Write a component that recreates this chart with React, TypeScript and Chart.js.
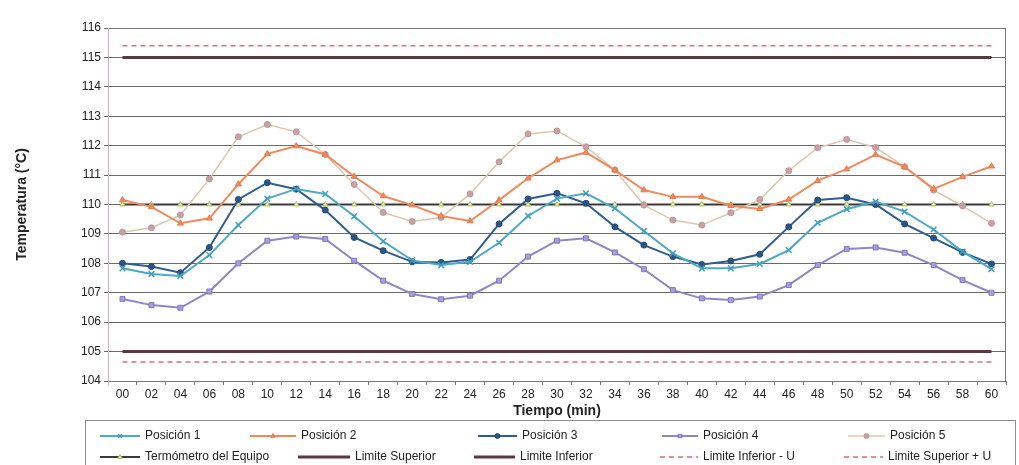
import React, { useEffect, useRef } from "react";
import { Chart, registerables } from "chart.js";
import { drawPoint } from "chart.js/helpers";

Chart.register(...registerables);

const tiempo = ["00","02","04","06","08","10","12","14","16","18","20","22","24","26","28","30","32","34","36","38","40","42","44","46","48","50","52","54","56","58","60"];

const posicion1 = [107.83,107.64,107.57,108.28,109.3,110.2,110.53,110.36,109.6,108.75,108.1,107.94,108.05,108.7,109.61,110.2,110.38,109.87,109.1,108.34,107.83,107.83,107.98,108.45,109.38,109.84,110.1,109.76,109.15,108.4,107.8];
const posicion2 = [110.15,109.92,109.36,109.53,110.69,111.72,111.99,111.7,110.95,110.29,109.98,109.61,109.44,110.15,110.89,111.51,111.77,111.17,110.49,110.26,110.26,109.96,109.85,110.17,110.81,111.2,111.7,111.28,110.53,110.94,111.3];
const posicion3 = [108.0,107.89,107.68,108.54,110.17,110.74,110.52,109.81,108.88,108.43,108.05,108.03,108.13,109.34,110.19,110.38,110.04,109.24,108.62,108.23,107.96,108.08,108.31,109.24,110.15,110.23,110.0,109.34,108.86,108.37,107.98];
const posicion4 = [106.79,106.58,106.49,107.04,108.0,108.77,108.91,108.83,108.09,107.41,106.96,106.78,106.9,107.41,108.23,108.77,108.85,108.37,107.8,107.09,106.81,106.75,106.87,107.26,107.94,108.49,108.54,108.36,107.94,107.43,107.0];
const posicion5 = [109.06,109.21,109.64,110.87,112.3,112.72,112.47,111.7,110.68,109.73,109.42,109.56,110.36,111.45,112.4,112.5,111.96,111.17,109.98,109.47,109.3,109.72,110.17,111.15,111.93,112.21,111.94,111.28,110.49,109.95,109.36];
const termometro = 110;
const limiteSuperior = 115;
const limiteInferior = 105;
const limiteInferiorU = 104.65;
const limiteSuperiorU = 115.4;

const yMin = 104;
const yMax = 116;

const FONT = "'Liberation Sans', Arial, sans-serif";

const flat = (v: number) => tiempo.map(() => v);

// legend layout: [sampleStartX, textX, y]
const legendSlots: [number, number, number][] = [
  [100, 145, 436],
  [250, 301, 436],
  [478, 522, 436],
  [662, 703, 436],
  [848, 890, 436],
  [100, 145, 457],
  [298, 355, 457],
  [474, 520, 457],
  [660, 703, 457],
  [844, 888, 457],
];

const legendPlugin = {
  id: "customLegend",
  afterDraw(chart: any) {
    const ctx = chart.ctx as CanvasRenderingContext2D;
    ctx.save();
    ctx.strokeStyle = "#8a8a8a";
    ctx.lineWidth = 1;
    ctx.strokeRect(85.5, 420.5, 930, 60);
    ctx.font = `12px ${FONT}`;
    ctx.fillStyle = "#222";
    ctx.textBaseline = "middle";
    chart.data.datasets.forEach((ds: any, i: number) => {
      const slot = legendSlots[i];
      if (!slot) return;
      const [sx, tx, y] = slot;
      const ex = tx - 5;
      ctx.save();
      ctx.strokeStyle = ds.borderColor;
      ctx.lineWidth = ds.borderWidth;
      ctx.setLineDash(ds.borderDash || []);
      ctx.beginPath();
      ctx.moveTo(sx, y);
      ctx.lineTo(ex, y);
      ctx.stroke();
      ctx.restore();
      if (ds.pointStyle && ds.pointRadius > 0) {
        ctx.save();
        ctx.fillStyle = ds.pointBackgroundColor;
        ctx.strokeStyle = ds.pointBorderColor;
        ctx.lineWidth = ds.pointBorderWidth;
        drawPoint(ctx, { pointStyle: ds.pointStyle, rotation: 0, borderWidth: ds.pointBorderWidth, radius: 2.5 }, (sx + ex) / 2, y);
        ctx.restore();
      }
      ctx.fillStyle = "#222";
      ctx.fillText(ds.label, tx, y);
    });
    ctx.restore();
  },
};

const framePlugin = {
  id: "plotFrame",
  beforeDatasetsDraw(chart: any) {
    const { ctx, chartArea } = chart;
    const { left, right, top, bottom } = chartArea;
    ctx.save();
    ctx.lineWidth = 1;
    ctx.strokeStyle = "#7a7a7a";
    ctx.beginPath();
    ctx.moveTo(Math.round(left) + 0.5, Math.round(top) + 0.5);
    ctx.lineTo(Math.round(right) - 0.5, Math.round(top) + 0.5);
    ctx.lineTo(Math.round(right) - 0.5, Math.round(bottom) + 0.5);
    ctx.stroke();
    ctx.strokeStyle = "#e2a9b8";
    ctx.beginPath();
    ctx.moveTo(Math.round(left) + 0.5, Math.round(top));
    ctx.lineTo(Math.round(left) + 0.5, Math.round(bottom) + 4);
    ctx.stroke();
    ctx.restore();
  },
};

export default function App() {
  const ref = useRef<HTMLCanvasElement | null>(null);
  useEffect(() => {
    if (!ref.current) return;
    const line = (label: string, data: number[], color: string, width: number, point: any, extra: any = {}) => ({
      label,
      data,
      borderColor: color,
      backgroundColor: color,
      borderWidth: width,
      tension: 0,
      fill: false,
      ...point,
      ...extra,
    });
    const chart = new Chart(ref.current, {
      type: "line",
      data: {
        labels: tiempo,
        datasets: [
          line("Posición 1", posicion1, "#4fa9c3", 2, { pointStyle: "crossRot", pointRadius: 4, pointBorderWidth: 1.5, pointBackgroundColor: "#4fa9c3", pointBorderColor: "#3f9fbd" }),
          line("Posición 2", posicion2, "#ef8a5e", 2, { pointStyle: "triangle", pointRadius: 3.5, pointBorderWidth: 1, pointBackgroundColor: "#ef8a5e", pointBorderColor: "#e57a4e" }),
          line("Posición 3", posicion3, "#2f5e8e", 2, { pointStyle: "circle", pointRadius: 3, pointBorderWidth: 1, pointBackgroundColor: "#2a5585", pointBorderColor: "#244b77" }),
          line("Posición 4", posicion4, "#8f86c6", 2, { pointStyle: "rect", pointRadius: 3.5, pointBorderWidth: 1, pointBackgroundColor: "#a89ed8", pointBorderColor: "#8277bd" }),
          line("Posición 5", posicion5, "#dbc8ae", 1.5, { pointStyle: "circle", pointRadius: 3, pointBorderWidth: 1, pointBackgroundColor: "#c9a1a3", pointBorderColor: "#bf9497" }),
          line("Termómetro del Equipo", flat(termometro), "#3a3a3a", 1.8, { pointStyle: "triangle", pointRadius: 3, pointBorderWidth: 1, pointBackgroundColor: "#eef2c6", pointBorderColor: "#a9b85a" }),
          line("Limite Superior", flat(limiteSuperior), "#5a3a40", 3, { pointRadius: 0 }),
          line("Limite Inferior", flat(limiteInferior), "#5a3a40", 3, { pointRadius: 0 }),
          line("Limite Inferior - U", flat(limiteInferiorU), "#e36b7a", 1.5, { pointRadius: 0 }, { borderDash: [5, 4] }),
          line("Limite Superior + U", flat(limiteSuperiorU), "#e36b7a", 1.5, { pointRadius: 0 }, { borderDash: [5, 4] }),
        ],
      },
      options: {
        responsive: false,
        animation: false,
        layout: { padding: { left: 0, right: 13, top: 28, bottom: 44 } },
        plugins: {
          legend: { display: false },
          tooltip: { enabled: false },
          title: { display: false },
        },
        scales: {
          x: {
            type: "category",
            offset: true,
            grid: { offset: true, drawOnChartArea: false, drawTicks: true, tickLength: 4, color: "#777" },
            border: { color: "#777", width: 1 },
            ticks: { color: "#222", font: { family: FONT, size: 12 }, maxRotation: 0, autoSkip: false, padding: 2 },
            title: { display: true, text: "Tiempo (min)", color: "#222", font: { family: FONT, size: 14, weight: "bold" }, padding: { top: 0, bottom: 1 } },
            afterFit: (s: any) => { s.height = 40; },
          },
          y: {
            min: yMin,
            max: yMax,
            ticks: { stepSize: 1, color: "#222", font: { family: FONT, size: 12 }, padding: 3 },
            grid: { color: "#6a6a6a", lineWidth: 1, tickLength: 4 },
            border: { display: false },
            title: { display: true, text: "Temperatura (°C)", color: "#222", font: { family: FONT, size: 14, weight: "bold" }, padding: { top: 14, bottom: 0 } },
            afterFit: (s: any) => { s.width = 108; },
          },
        },
      } as any,
      plugins: [framePlugin, legendPlugin],
    });
    return () => chart.destroy();
  }, []);
  return (
    <div style={{ position: "absolute", left: 0, top: 0, width: 1019, height: 465, background: "#fff" }}>
      <canvas ref={ref} width={1019} height={465} style={{ display: "block" }} />
    </div>
  );
}
